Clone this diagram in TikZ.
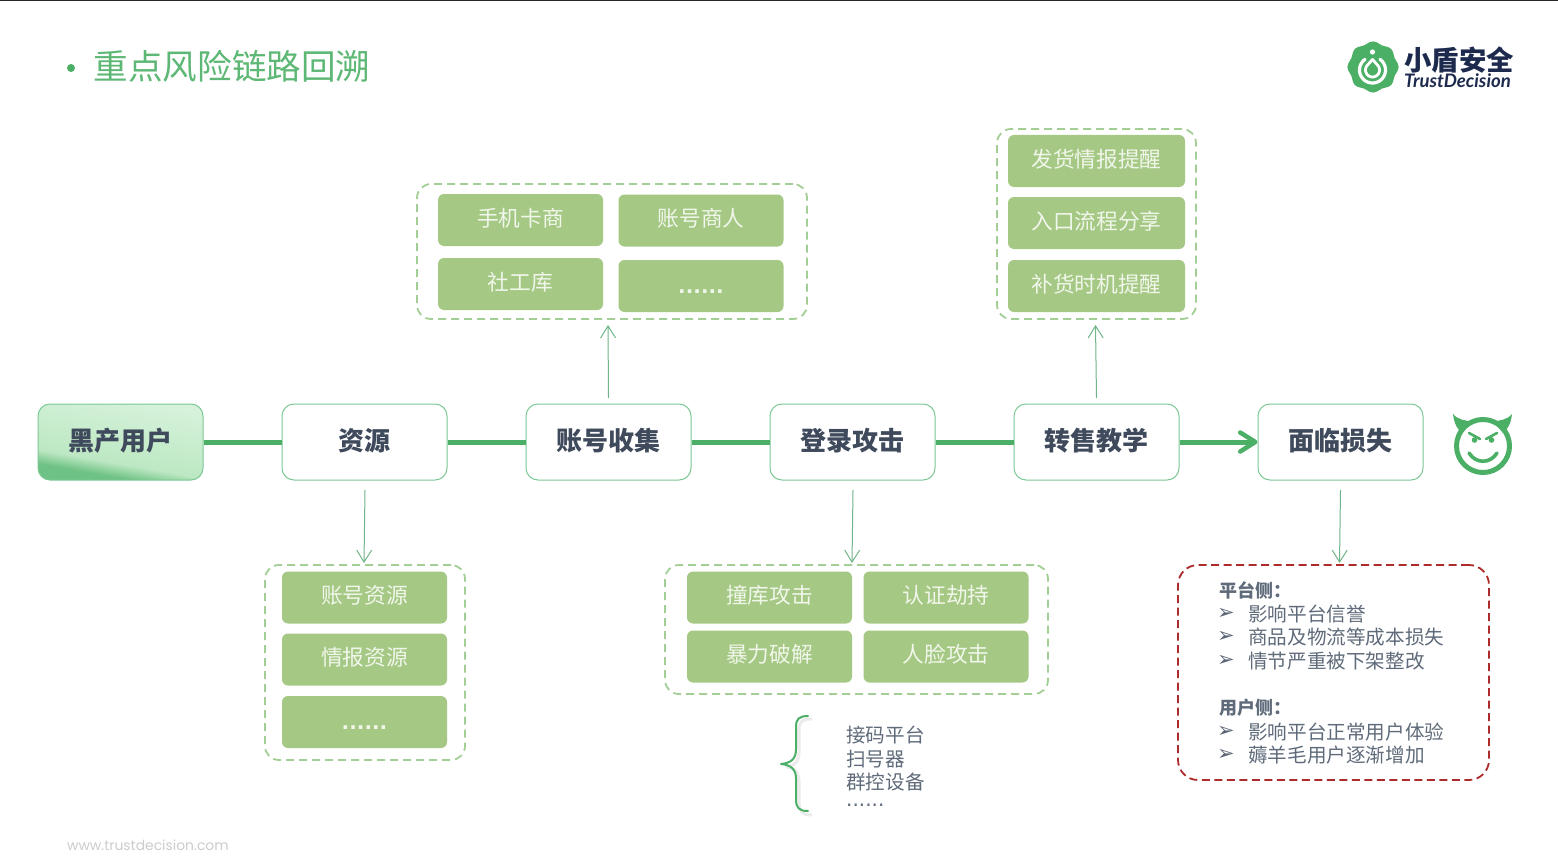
\documentclass[tikz,border=0pt]{standalone}
\usepackage{fontspec}
\usetikzlibrary{arrows.meta,calc,shadings}
\setmainfont{Noto Sans CJK SC}
\newfontfamily\dejavu{DejaVu Sans}
\newfontfamily\latofont{Lato}
\newfontfamily\footfont{Poppins}
\definecolor{tgreen}{HTML}{4BAF66}
\definecolor{nodeedge}{HTML}{7CC996}
\definecolor{chipfill}{HTML}{A5C985}
\definecolor{chiptext}{HTML}{F1F6EA}
\definecolor{dashgreen}{HTML}{A3CF96}
\definecolor{darktext}{HTML}{3F4A5C}
\definecolor{listtext}{HTML}{5F6B7A}
\definecolor{riskred}{HTML}{AE2B2B}
\definecolor{navy}{HTML}{1D2A4D}
\definecolor{shA}{HTML}{6FC285}
\definecolor{shB}{HTML}{BDE8C3}
\definecolor{shC}{HTML}{D6F2DB}
\pgfdeclareverticalshading{blackuser}{100bp}{color(0bp)=(shA); color(30bp)=(shA); color(38bp)=(shB); color(75bp)=(shC); color(100bp)=(shC)}
\newcommand{\fs}[1]{\fontsize{#1}{#1}\selectfont}
\newcommand{\chiptxt}[1]{\raisebox{-6.2pt}[0pt][0pt]{#1}}
\newcommand{\chipdots}{\raisebox{-7.5pt}[0pt][0pt]{......}}
\newcommand{\stagetxt}[1]{\raisebox{-8.2pt}[0pt][0pt]{#1}}
\tikzset{
 x=1pt,y=-1pt,
 stage/.style={draw=nodeedge,line width=1pt,rounded corners=12pt,fill=white,minimum width=165pt,minimum height=76pt,inner sep=0pt,text=darktext,font=\fs{26}\bfseries},
 chip/.style={fill=chipfill,rounded corners=6pt,minimum width=165pt,minimum height=52pt,inner sep=0pt,text=chiptext,font=\fs{21.7}},
 group/.style={draw=dashgreen,line width=1.8pt,dash pattern=on 8pt off 5pt,rounded corners=14pt,inner sep=0pt},
 flow/.style={draw=tgreen,line width=5pt},
 thinarrow/.style={draw=nodeedge!90!black,line width=1pt,-{Straight Barb[length=12pt,width=15pt,line width=1pt]}},
 listitem/.style={anchor=west,inner sep=0pt,text=listtext,font=\fs{19.6}},
 listhead/.style={anchor=west,inner sep=0pt,text=listtext,font=\fs{18}\bfseries},
 pointer/.style={anchor=center,inner sep=0pt,text=darktext!85,font=\dejavu\fs{21}},
}
\begin{document}
\begin{tikzpicture}
\useasboundingbox (0,0) rectangle (1558,864);
\fill[white] (0,0) rectangle (1558,864);
\fill[black!85] (0,0) rectangle (1558,1.2);

% title
\fill[tgreen] (71,68) circle (4);
\node[anchor=west,inner sep=0pt,text=tgreen!90!white,font=\fs{34.6}] (title) at (93.5,66) {重点风险链路回溯};

% logo
\fill[tgreen] plot[smooth cycle,samples=48,domain=0:352.5] ({1373+(24.5+1.1*cos(8*\x))*cos(\x)},{67+(24.5+1.1*cos(8*\x))*sin(\x)});
\draw[white,line width=3.2pt,line cap=round] plot[smooth,samples=40,domain=-55:235] ({1372.5+13*cos(\x)},{70+13*sin(\x)});
\draw[white,line width=2.8pt,line join=round] (1372.5,59.5) -- plot[smooth,samples=30,domain=-45:225] ({1372.5+7*cos(\x)},{70+7*sin(\x)}) -- cycle;
\fill[white] (1372.5,52) circle (2.6);
\node[anchor=west,inner sep=0pt,text=navy,font=\fs{27.4}\bfseries] (logocn) at (1404,60) {小盾安全};
\node[anchor=west,inner sep=0pt,text=navy,font=\latofont\fs{18.6}\bfseries\itshape] (logoen) at (1404,80.5) {TrustDecision};

% stages
\node[stage,shading=blackuser,shading angle=-10] (s1) at (120.5,442) {\stagetxt{黑产用户}};
\node[stage] (s2) at (364.5,442) {\stagetxt{资源}};
\node[stage] (s3) at (608.5,442) {\stagetxt{账号收集}};
\node[stage] (s4) at (852.5,442) {\stagetxt{登录攻击}};
\node[stage] (s5) at (1096.5,442) {\stagetxt{转售教学}};
\node[stage] (s6) at (1340.5,442) {\stagetxt{面临损失}};
\draw[flow] (s1) -- (s2);
\draw[flow] (s2) -- (s3);
\draw[flow] (s3) -- (s4);
\draw[flow] (s4) -- (s5);
\draw[flow,-{Straight Barb[length=15pt,width=19pt,line width=4.5pt,round]}] (s5) -- (s6);

% account group
\node[group,minimum width=390pt,minimum height=135pt] (g3) at (612,251.5) {};
\node[chip] (a1) at (520.5,220) {\chiptxt{手机卡商}};
\node[chip] (a2) at (701,220.5) {\chiptxt{账号商人}};
\node[chip] (a3) at (520.5,284) {\chiptxt{社工库}};
\node[chip,font=\dejavu\fs{20}\bfseries] (a4) at (701,286) {\chipdots};

% resale group
\node[group,minimum width=199pt,minimum height=190pt] (g5) at (1096.5,224) {};
\node[chip,minimum width=177pt] (r1) at (1096.5,161) {\chiptxt{发货情报提醒}};
\node[chip,minimum width=177pt] (r2) at (1096.5,223) {\chiptxt{入口流程分享}};
\node[chip,minimum width=177pt] (r3) at (1096.5,286) {\chiptxt{补货时机提醒}};

% resource group
\node[group,minimum width=200pt,minimum height=195pt] (g2) at (365,662.5) {};
\node[chip] (b1) at (364.5,597.5) {\chiptxt{账号资源}};
\node[chip] (b2) at (364.5,659.5) {\chiptxt{情报资源}};
\node[chip,font=\dejavu\fs{20}\bfseries] (b3) at (364.5,722) {\chipdots};

% attack group
\node[group,minimum width=383pt,minimum height=129pt] (g4) at (856.5,629.5) {};
\node[chip] (c1) at (769.5,597.5) {\chiptxt{撞库攻击}};
\node[chip] (c2) at (946,597.5) {\chiptxt{认证劫持}};
\node[chip] (c3) at (769.5,656.5) {\chiptxt{暴力破解}};
\node[chip] (c4) at (946,656.5) {\chiptxt{人脸攻击}};

% thin arrows
\coordinate (f2) at (365,490);
\coordinate (t2) at (364,563);
\coordinate (f3) at (608.5,398);
\coordinate (t3) at (608,325);
\coordinate (f4) at (853,490);
\coordinate (t4) at (852,563);
\coordinate (f5) at (1096.5,398);
\coordinate (t5) at (1095.5,325);
\coordinate (f6) at (1340.5,490);
\coordinate (t6) at (1339.5,563);
\draw[thinarrow] (f2) -- (t2);
\draw[thinarrow] (f3) -- (t3);
\draw[thinarrow] (f4) -- (t4);
\draw[thinarrow] (f5) -- (t5);
\draw[thinarrow] (f6) -- (t6);

% brace
\draw[black!8,line width=3pt,line cap=round,line join=round] (811,719) .. controls (802,719) and (799,722) .. (799,730) -- (799,752) .. controls (799,762) and (794,766) .. (787,767) .. controls (794,768) and (799,772) .. (799,782) -- (799,802) .. controls (799,811) and (802,815) .. (811,815);
\draw[tgreen,line width=2pt,line cap=round,line join=round] (808,716) .. controls (799,716) and (796,719) .. (796,727) -- (796,749) .. controls (796,759) and (791,763) .. (781,764) .. controls (791,765) and (796,769) .. (796,779) -- (796,799) .. controls (796,808) and (799,811) .. (808,811);
\node[listitem] (d1) at (846,735) {接码平台};
\node[listitem] (d2) at (846,759) {扫号器};
\node[listitem] (d3) at (846,782) {群控设备};
\node[listitem,font=\dejavu\fs{20}] (d4) at (846,805) {......};

% losses
\node[draw=riskred,line width=1.8pt,dash pattern=on 8pt off 4.5pt,rounded corners=20pt,minimum width=311pt,minimum height=215pt,inner sep=0pt] (loss) at (1333.5,672.5) {};
\node[listhead] (h1) at (1219,590) {平台侧：};
\node[pointer] (p1) at (1226,614) {➢};
\node[listitem] (l1) at (1248,614) {影响平台信誉};
\node[pointer] (p2) at (1226,637) {➢};
\node[listitem] (l2) at (1248,637) {商品及物流等成本损失};
\node[pointer] (p3) at (1226,661) {➢};
\node[listitem] (l3) at (1248,661) {情节严重被下架整改};
\node[listhead] (h2) at (1219,708) {用户侧：};
\node[pointer] (p4) at (1226,732) {➢};
\node[listitem] (l4) at (1248,732) {影响平台正常用户体验};
\node[pointer] (p5) at (1226,755) {➢};
\node[listitem] (l5) at (1248,755) {薅羊毛用户逐渐增加};

% devil
\draw[tgreen,line width=5pt] (1483,446) circle (26.5);
\fill[tgreen] (1453,414) .. controls (1454,424) and (1458,430) .. (1462,433) -- (1472,421) .. controls (1466,421) and (1458,420) .. (1453,414) -- cycle;
\fill[tgreen] (1512,414) .. controls (1511,424) and (1507,430) .. (1503,433) -- (1493,421) .. controls (1499,421) and (1507,420) .. (1512,414) -- cycle;
\draw[tgreen,line width=2.6pt,line cap=round] (1469,433) -- (1480,439);
\draw[tgreen,line width=2.6pt,line cap=round] (1497,433) -- (1486,439);
\fill[tgreen] (1474.5,440) circle (2.8);
\fill[tgreen] (1491.5,440) circle (2.8);
\draw[tgreen,line width=3.6pt,line cap=round] (1469,453) .. controls (1476,464) and (1490,464) .. (1497,453);

% footer
\node[anchor=west,inner sep=0pt,text=black!20,font=\footfont\fs{13.9}] (foot) at (67,845) {www.trustdecision.com};
\end{tikzpicture}
\end{document}
